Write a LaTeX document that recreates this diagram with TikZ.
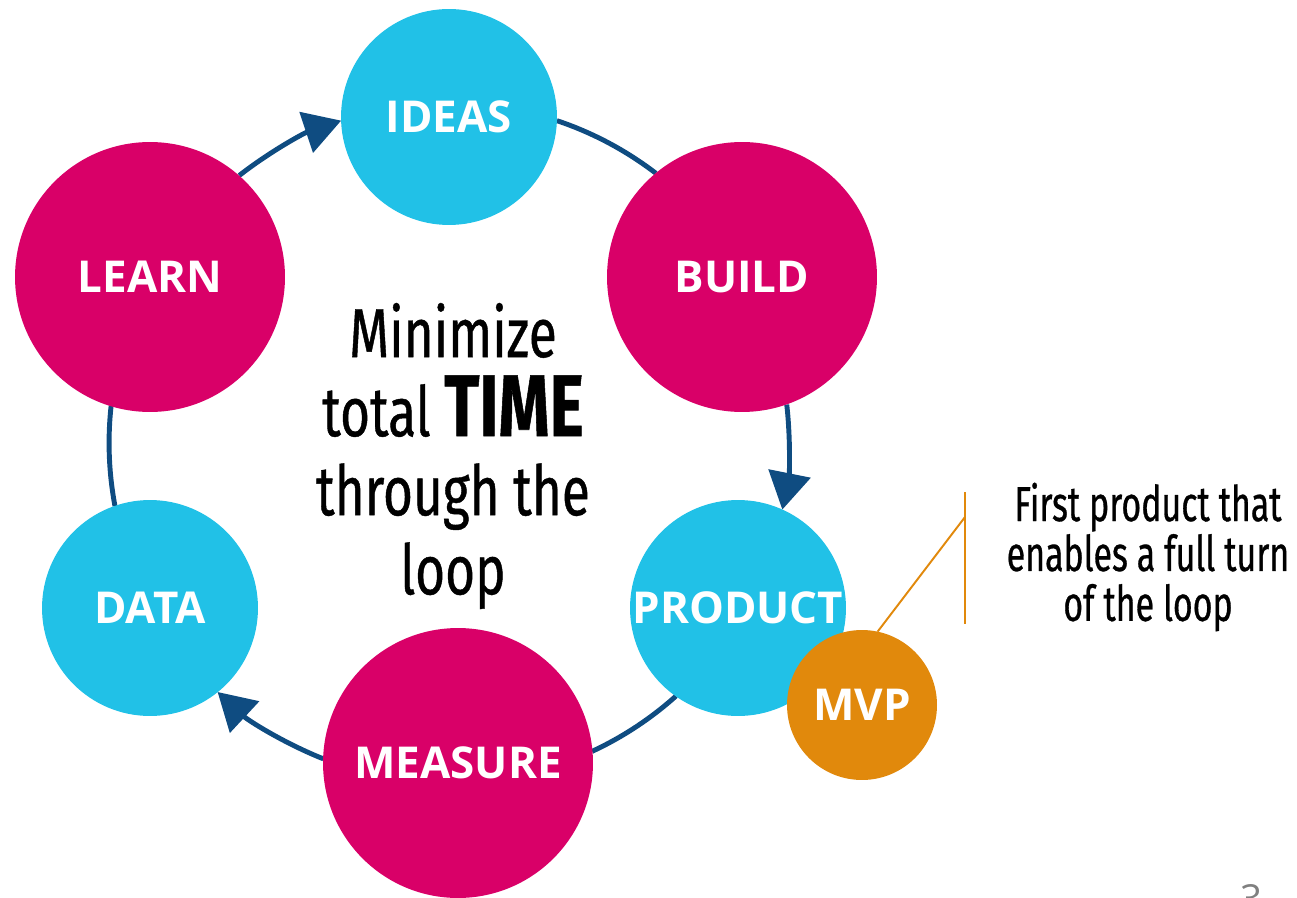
\documentclass[tikz,border=0pt]{standalone}
\usepackage{fontspec}
\setmainfont{Open Sans}
\newfontfamily\condfont[FakeStretch=0.74, FakeBold=0.6]{Fira Sans}
\newfontfamily\notefont[FakeStretch=0.69, FakeBold=0.6]{Fira Sans}
\usetikzlibrary{arrows.meta}
\definecolor{loopblue}{HTML}{0F4C81}
\definecolor{ideacyan}{HTML}{21C1E7}
\definecolor{stepmagenta}{HTML}{D90068}
\definecolor{mvporange}{HTML}{E1890C}
\begin{document}
\begin{tikzpicture}[
  x = 0.02cm,
  y = 0.02cm,
  blob/.style = {
    shape = circle,
    inner sep = 0pt,
    outer sep = 0pt,
    text = white,
    font = \fontsize{25}{30}\selectfont\bfseries
  },
  smallblob/.style = {
    blob,
    fill = ideacyan,
    minimum size = 4.32cm
  },
  bigblob/.style = {
    blob,
    fill = stepmagenta,
    minimum size = 5.4cm
  },
  loopline/.style = {
    draw = loopblue,
    line width = 2.8pt
  },
  looparrow/.style = {
    loopline,
    -{Triangle[length=21pt, width=24pt]}
  }
]
  \useasboundingbox (0, 0) rectangle (1297, 897);

  % the loop runs on one circle round the hub
  \coordinate (hub) at (449, 454);
  \draw[looparrow] ([shift={(128.1:6.8cm)}] hub) arc[start angle=128.1, end angle=108.5, radius=6.8cm];
  \draw[loopline] ([shift={(71.5:6.8cm)}] hub) arc[start angle=71.5, end angle=52.5, radius=6.8cm];
  \draw[looparrow] ([shift={(6.5:6.8cm)}] hub) arc[start angle=6.5, end angle=-11.3, radius=6.8cm];
  \draw[loopline] ([shift={(-48.1:6.8cm)}] hub) arc[start angle=-48.1, end angle=-65.1, radius=6.8cm];
  \draw[looparrow] ([shift={(-111.7:6.8cm)}] hub) arc[start angle=-111.7, end angle=-132.9, radius=6.8cm];
  \draw[loopline] ([shift={(-169.3:6.8cm)}] hub) arc[start angle=-169.3, end angle=-186.3, radius=6.8cm];

  \node[smallblob] (ideas) at (449, 780) {IDEAS};
  \node[bigblob] (build) at (742, 620) {BUILD};
  \node[smallblob] (product) at (738, 289) {PRODUCT};
  \node[bigblob] (measure) at (458, 134) {MEASURE};
  \node[smallblob] (data) at (150, 289) {DATA};
  \node[bigblob] (learn) at (150, 620) {LEARN};
  \node[blob, fill = mvporange, minimum size = 3cm] (mvp) at (862, 192) {MVP};

  \node[align = center, font = \condfont\fontsize{39.5}{45}\selectfont] (goal) at (453, 441)
    {Minimize\\total {\fontsize{50}{45}\selectfont\bfseries TIME}\\through the\\loop};

  % MVP callout
  \coordinate (btop) at (965, 405);
  \coordinate (bbot) at (965, 273);
  \coordinate (bjoin) at (965, 380);
  \draw[mvporange, line width = 1.1pt] (btop) -- (bbot);
  \draw[mvporange, line width = 1.1pt] (mvp.78) -- (bjoin);
  \node[align = center, font = \notefont\fontsize{28}{28.4}\selectfont] (note) at (1148, 340)
    {First product that\\enables a full turn\\of the loop};

  \node[anchor = north, text = gray, font = \fontsize{22}{26}\selectfont] (page) at (1252, 19) {3};
\end{tikzpicture}
\end{document}
